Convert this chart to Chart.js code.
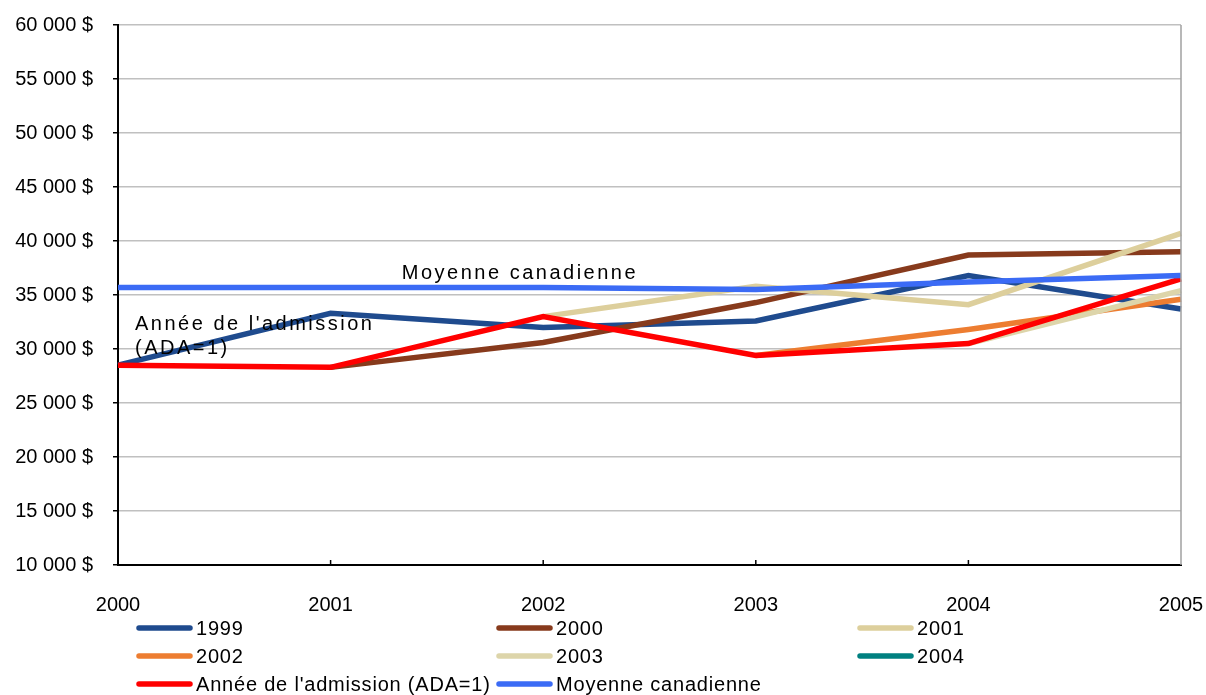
<!DOCTYPE html>
<html>
<head>
<meta charset="utf-8">
<script src="https://cdn.jsdelivr.net/npm/chart.js@4/dist/chart.umd.min.js"></script>
<style>
  body { margin: 0; background: #fff; }
  #wrap { width: 1206px; height: 695px; }
</style>
</head>
<body>
<div id="wrap"><canvas id="chart" width="1206" height="695"></canvas></div>
<script>
// années de l'axe horizontal
const years = ['2000', '2001', '2002', '2003', '2004', '2005'];

// revenus par cohorte d'admission (null = pas encore admis)
const cohort1999 = [28500, 33300, 32000, 32600, 36800, 33700];
const cohort2000 = [null, 28300, 30600, 34300, 38700, 39000];
const cohort2001 = [null, null, 33000, 35800, 34100, 40700];
const cohort2002 = [null, null, null, 29400, 31800, 34600];
const cohort2003 = [null, null, null, null, 30500, 35400];
const cohort2004 = [null, null, null, null, null, 36500];
const admissionYear = [28500, 28300, 33000, 29400, 30500, 36500];
const canadianAverage = [35700, 35700, 35700, 35500, 36200, 36800];

const seriesNames = ['1999', '2000', '2001', '2002', '2003', '2004', "Année de l'admission (ADA=1)", 'Moyenne canadienne'];
const seriesValues = [cohort1999, cohort2000, cohort2001, cohort2002, cohort2003, cohort2004, admissionYear, canadianAverage];
const seriesColors = ['#1F4B8E', '#873A1C', '#DDCF9C', '#ED7D31', '#DDD5AA', '#008080', '#FF0000', '#3B6BF5'];

const FONT = '"Liberation Sans", Arial, sans-serif';

function formatDollar(v) {
    return v.toString().replace(/\B(?=(\d{3})+(?!\d))/g, ' ') + ' $';
}

// cadre droit + petites graduations vers l'intérieur sur l'axe X
const framePlugin = {
    id: 'frame',
    afterDraw(chart) {
        const ctx = chart.ctx;
        const a = chart.chartArea;
        const xs = chart.scales.x;
        ctx.save();
        ctx.strokeStyle = '#A0A0A0';
        ctx.lineWidth = 1.5;
        ctx.beginPath();
        ctx.moveTo(a.right, a.top);
        ctx.lineTo(a.right, a.bottom);
        ctx.stroke();
        ctx.strokeStyle = '#000';
        ctx.lineWidth = 1.5;
        years.forEach((y, i) => {
            const px = xs.getPixelForValue(i);
            if (i === 0 || i === years.length - 1) return;
            ctx.beginPath();
            ctx.moveTo(px, a.bottom);
            ctx.lineTo(px, a.bottom - 5);
            ctx.stroke();
        });
        ctx.restore();
    }
};

// étiquettes dans la zone du graphique
const labelPlugin = {
    id: 'labels',
    afterDatasetsDraw(chart) {
        const ctx = chart.ctx;
        const a = chart.chartArea;
        const w = a.right - a.left;
        ctx.save();
        ctx.fillStyle = '#000';
        ctx.font = '20px ' + FONT;
        ctx.letterSpacing = '2.5px';
        ctx.textBaseline = 'middle';
        ctx.textAlign = 'left';
        ctx.fillText('Moyenne canadienne', a.left + w * 0.267, 273);
        ctx.fillText("Année de l'admission", a.left + 17, 324);
        ctx.fillText('(ADA=1)', a.left + 17, 348);
        ctx.restore();
    }
};

// légende en trois colonnes
const legendPlugin = {
    id: 'gridLegend',
    afterDraw(chart) {
        const ctx = chart.ctx;
        const colX = [137, 497, 858];
        const rowY = [628, 656, 684];
        ctx.save();
        ctx.font = '20px ' + FONT;
        ctx.letterSpacing = '0.8px';
        ctx.textBaseline = 'middle';
        ctx.textAlign = 'left';
        ctx.lineCap = 'round';
        chart.data.datasets.forEach((ds, i) => {
            const x = colX[i % 3];
            const y = rowY[Math.floor(i / 3)];
            ctx.strokeStyle = ds.borderColor;
            ctx.lineWidth = 5.5;
            ctx.beginPath();
            ctx.moveTo(x + 2, y);
            ctx.lineTo(x + 53, y);
            ctx.stroke();
            ctx.fillStyle = '#000';
            ctx.fillText(ds.label, x + 59, y + 1);
        });
        ctx.restore();
    }
};

document.addEventListener('DOMContentLoaded', function() {
    const ctx = document.getElementById('chart');
    new Chart(ctx, {
        type: 'line',
        data: {
            labels: years,
            datasets: seriesNames.map((name, i) => ({
                label: name,
                data: seriesValues[i],
                borderColor: seriesColors[i],
                backgroundColor: seriesColors[i],
                borderWidth: 5.5,
                pointRadius: 0,
                tension: 0,
                fill: false,
                order: seriesNames.length - i
            }))
        },
        options: {
            responsive: false,
            animation: false,
            devicePixelRatio: 1,
            layout: { padding: { top: 25, right: 25, left: 0, bottom: 0 } },
            plugins: {
                legend: { display: false },
                tooltip: { enabled: false }
            },
            scales: {
                x: {
                    offset: false,
                    grid: { display: false },
                    border: { color: '#000', width: 2 },
                    ticks: {
                        color: '#000',
                        font: { family: FONT, size: 20 },
                        padding: 20,
                        maxRotation: 0,
                        autoSkip: false
                    },
                    afterFit(scale) {
                        scale.height = 130;
                        scale.paddingLeft = 0;
                        scale.paddingRight = 0;
                    }
                },
                y: {
                    min: 10000,
                    max: 60000,
                    grid: {
                        color: '#C0C0C0',
                        lineWidth: 1.5,
                        tickColor: '#000',
                        tickLength: 5
                    },
                    border: { color: '#000', width: 2 },
                    ticks: {
                        stepSize: 5000,
                        color: '#000',
                        font: { family: FONT, size: 20 },
                        padding: 20,
                        callback: v => formatDollar(v)
                    },
                    afterFit(scale) {
                        scale.width = 118;
                        scale.paddingTop = 0;
                        scale.paddingBottom = 0;
                    }
                }
            }
        },
        plugins: [framePlugin, labelPlugin, legendPlugin]
    });
});
</script>
</body>
</html>
